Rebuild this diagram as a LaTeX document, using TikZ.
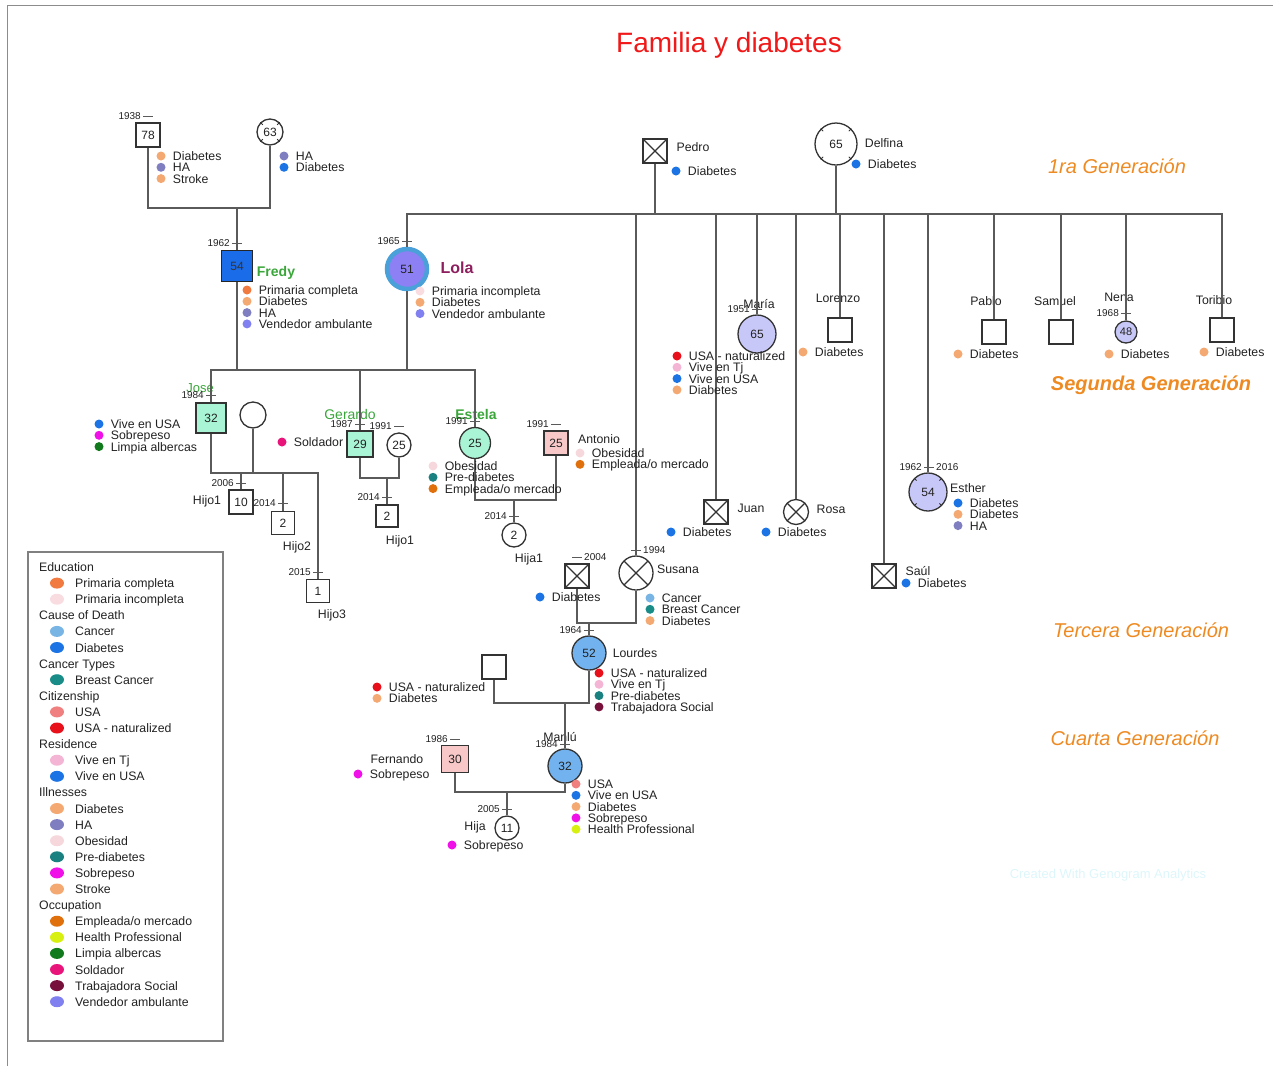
\documentclass[tikz,border=0pt]{standalone}
\usepackage{fontspec}
\setmainfont{Liberation Sans}
\usetikzlibrary{positioning,calc,shapes.geometric}

% colours
\definecolor{lineg}{HTML}{5A5A5A}
\definecolor{shapeg}{HTML}{333333}
\definecolor{txtc}{HTML}{222222}
\definecolor{titred}{HTML}{F01818}
\definecolor{genor}{HTML}{EE8A22}
\definecolor{greenname}{HTML}{3AA63A}
\definecolor{lolaname}{HTML}{8E1F5E}
\definecolor{wmark}{HTML}{DDF6FA}
\definecolor{cFredy}{HTML}{1A6CE8}
\definecolor{cLola}{HTML}{8C80F4}
\definecolor{cRing}{HTML}{4AA0D8}
\definecolor{cMint}{HTML}{A8F4D4}
\definecolor{cPink}{HTML}{F8C8C8}
\definecolor{cLav}{HTML}{C8C8F8}
\definecolor{cBlue}{HTML}{72B2EE}
\definecolor{cDiab}{HTML}{F4A872}
\definecolor{cHA}{HTML}{7E7EC0}
\definecolor{cStroke}{HTML}{F4A872}
\definecolor{cDeath}{HTML}{1C74E4}
\definecolor{cCancer}{HTML}{78B4E4}
\definecolor{cBreast}{HTML}{1A8C88}
\definecolor{cUSA}{HTML}{F08080}
\definecolor{cNat}{HTML}{E8101A}
\definecolor{cTj}{HTML}{F4B4D4}
\definecolor{cVUSA}{HTML}{1C74E4}
\definecolor{cObes}{HTML}{F6D8DC}
\definecolor{cPre}{HTML}{1A8080}
\definecolor{cSobre}{HTML}{F010E8}
\definecolor{cPC}{HTML}{F07A40}
\definecolor{cPI}{HTML}{F8DCE0}
\definecolor{cEmp}{HTML}{E0700C}
\definecolor{cHealth}{HTML}{D8F010}
\definecolor{cLimpia}{HTML}{107A1C}
\definecolor{cSold}{HTML}{E8147A}
\definecolor{cTrab}{HTML}{78103C}
\definecolor{cVend}{HTML}{8080F0}

\newcommand{\fattr}{\fontsize{12.3}{13}\selectfont}
\newcommand{\fnum}{\fontsize{12}{13}\selectfont}
\newcommand{\fyr}{\fontsize{10}{11}\selectfont}
\newcommand{\fgen}{\fontsize{20}{22}\selectfont}

\tikzset{
  lnk/.style={draw=lineg, line width=1.6pt},
  tk/.style={draw=lineg, line width=1pt},
  male/.style={rectangle, draw=shapeg, line width=1.3pt, fill=white, inner sep=0pt, font=\fnum, text=txtc},
  female/.style={circle, draw=shapeg, line width=1.3pt, fill=white, inner sep=0pt, font=\fnum, text=txtc},
  dead/.style={path picture={\draw[shapeg, line width=1.1pt]
      (path picture bounding box.north west) -- (path picture bounding box.south east)
      (path picture bounding box.north east) -- (path picture bounding box.south west);}},
  dot/.style={circle, inner sep=0pt, minimum size=9pt},
  attr/.style={inner sep=0pt, font=\fattr, text height=9pt, text depth=0pt, text=txtc},
  nm/.style={inner sep=0pt, font=\fattr, text height=9pt, text depth=0pt, text=txtc},
  yr/.style={inner sep=0pt, font=\fyr, text height=7pt, text depth=0pt, text=txtc},
  gen/.style={font=\fgen\itshape, text=genor},
  legbox/.style={draw=black!50, line width=1.2pt},
  leghead/.style={anchor=west, inner sep=0pt, font=\fattr, text height=9pt, text depth=0pt, text=txtc},
  legdot/.style={ellipse, inner sep=0pt, minimum width=14pt, minimum height=11pt},
  legtext/.style={anchor=west, inner sep=0pt, font=\fattr, text height=9pt, text depth=0pt, text=txtc}
}

% dots with their texts below one another
\newcommand{\attrs}[4]{%
  \foreach \col/\tx [count=\i from 0] in {#4}{%
    \node[dot, fill=\col] (#1d\i) at (#2,{#3+11.3*\i}) {};
    \node[attr, right=7pt of #1d\i] (#1t\i) {\tx};
  }%
}

\begin{document}
\begin{tikzpicture}[x=1pt, y=-1pt]
\useasboundingbox (0,0) rectangle (1273,1066);
\draw[black!45, line width=0.8pt] (7,1066) -- (7,5) -- (1273,5);

\node[font=\fontsize{28}{30}\selectfont, text=titred] (title) at (729,45) {Familia y diabetes};
\node[gen] (gen1) at (1117,166) {1ra Generación};
\node[gen, font=\fgen\bfseries\itshape] (gen2) at (1151,385) {Segunda Generación};
\node[gen] (gen3) at (1141,630) {Tercera Generación};
\node[gen] (gen4) at (1135,738) {Cuarta Generación};
\node[font=\fontsize{13}{14}\selectfont, text=wmark] (wm) at (1108,875) {Created With Genogram Analytics};

% first generation
\node[male, minimum size=24pt] (gpa) at (148,135) {78};
\node[female, minimum size=26pt] (gma) at (270,132) {63};
\node[male, dead, minimum size=24pt] (pedro) at (655,151) {};
\node[female, minimum size=42pt] (delfina) at (836,144) {65};

% second generation
\node[male, minimum size=31pt, fill=cFredy, draw=black!85, text=black!80] (fredy) at (237,266) {54};
\node[female, minimum size=40pt, fill=cLola, draw=cRing, line width=4.5pt] (lola) at (407,269) {51};
\node[female, minimum size=38pt, fill=cLav] (maria) at (757,334) {65};
\node[male, minimum size=24pt] (lorenzo) at (840,330) {};
\node[male, minimum size=24pt] (pablo) at (994,332) {};
\node[male, minimum size=24pt] (samuel) at (1061,332) {};
\node[female, minimum size=22pt, fill=cLav, font=\fontsize{11}{12}\selectfont] (nena) at (1126,332) {48};
\node[male, minimum size=24pt] (toribio) at (1222,330) {};
\node[male, dead, minimum size=24pt] (juan) at (716,512) {};
\node[female, dead, minimum size=25pt] (rosa) at (796,512) {};
\node[female, minimum size=38pt, fill=cLav] (esther) at (928,492) {54};
\node[male, dead, minimum size=24pt] (saul) at (884,576) {};
\node[female, dead, minimum size=34pt] (susana) at (636,573) {};
\node[male, dead, minimum size=24pt] (sp) at (577,576) {};

% third generation
\node[male, minimum size=30pt, fill=cMint] (jose) at (211,418) {32};
\node[female, minimum size=26pt] (jw) at (253,415) {};
\node[male, minimum size=24pt] (hijoA) at (241,502) {10};
\node[male, minimum size=23pt] (hijoB) at (283,523) {2};
\node[male, minimum size=23pt] (hijoC) at (318,591) {1};
\node[male, minimum size=26pt, fill=cMint] (gerardo) at (360,444) {29};
\node[female, minimum size=24pt] (gw) at (399,445) {25};
\node[male, minimum size=22pt] (hijoD) at (387,516) {2};
\node[female, minimum size=31pt, fill=cMint] (estela) at (475,443) {25};
\node[male, minimum size=24pt, fill=cPink] (antonio) at (556,443) {25};
\node[female, minimum size=24pt] (hija1) at (514,535) {2};
\node[female, minimum size=34pt, fill=cBlue] (lourdes) at (589,653) {52};
\node[male, minimum size=24pt] (lp) at (494,667) {};

% fourth generation
\node[female, minimum size=34pt, fill=cBlue] (manlu) at (565,766) {32};
\node[male, minimum size=27pt, fill=cPink] (fernando) at (455,759) {30};
\node[female, minimum size=24pt] (hija) at (507,828) {11};

% small marks on some circles
\foreach \n in {gma,delfina,esther}
  \foreach \a in {45,135,225,315}
    \draw[shapeg, line width=0.8pt] (\n.\a) -- ($(\n.\a)!3.5pt!(\n.center)$);

% names
\node[nm, font=\fontsize{14}{15}\selectfont\bfseries, text=greenname, text height=10pt] (nFredy) at (276,271) {Fredy};
\node[nm, font=\fontsize{16}{17}\selectfont\bfseries, text=lolaname, text height=11pt] (nLola) at (457,268) {Lola};
\node[nm, font=\fontsize{13}{14}\selectfont, text=greenname, text height=9pt] (nJose) at (200,388) {José};
\node[nm, font=\fontsize{14}{15}\selectfont, text=greenname, text height=10pt] (nGerardo) at (350,414) {Gerardo};
\node[nm, font=\fontsize{14}{15}\selectfont\bfseries, text=greenname, text height=10pt] (nEstela) at (476,414) {Estela};
\foreach \x/\y/\tx [count=\i] in {693/147/Pedro, 884/143/Delfina, 759/304/María, 838/298/Lorenzo,
    986/301/Pablo, 1055/301/Samuel, 1119/297/Nena, 1214/300/Toribio, 599/439/Antonio,
    751/508/Juan, 831/509/Rosa, 968/488/Esther, 918/571/Saúl, 678/569/Susana,
    635/653/Lourdes, 397/759/Fernando, 560/737/Manlú, 475/826/Hija, 529/558/Hija1,
    207/500/Hijo1, 297/546/Hijo2, 332/614/Hijo3, 400/540/Hijo1}
  \node[nm] (nm\i) at (\x,\y) {\tx};

% years
\foreach \x/\y/\tx [count=\i] in {148/116/1938, 237/243/1962, 407/241/1965, 211/395/1984,
    360/424/1987, 399/426/1991, 475/421/1991, 556/424/1991, 241/483/2006, 283/503/2014,
    318/572/2015, 387/497/2014, 514/516/2014, 757/309/1951, 1126/313/1968, 589/630/1964,
    565/744/1984, 455/739/1986, 507/809/2005, 929/467/1962}{
  \node[yr, anchor=east] (yl\i) at (\x-7,\y) {\tx};
  \draw[tk] (\x-5,\y) -- (\x+5,\y);
}
\foreach \x/\y/\tx [count=\i] in {929/467/2016, 636/550/1994, 577/557/2004}{
  \node[yr, anchor=west] (yr\i) at (\x+7,\y) {\tx};
  \draw[tk] (\x-5,\y) -- (\x+5,\y);
}

% connectors
\coordinate (g1) at (237,208);
\draw[lnk] (gpa.south) |- (g1) -| (gma.south);
\draw[lnk] (g1) -- (fredy.north);

\coordinate (s1) at (800,214);
\draw[lnk] (lola.north) |- (s1) -| (toribio.north);
\foreach \n in {pedro,delfina} \draw[lnk] (\n.south) -- (\n.south |- s1);
\foreach \n in {susana,juan,maria,rosa,lorenzo,saul,esther,pablo,samuel,nena}
  \draw[lnk] (\n.north) -- (\n.north |- s1);

\coordinate (s2) at (340,370);
\draw[lnk] (jose.north) |- (s2) -| (estela.north);
\foreach \n in {fredy,lola} \draw[lnk] (\n.south) -- (\n.south |- s2);
\draw[lnk] (gerardo.north) -- (gerardo.north |- s2);

\coordinate (s3) at (260,473);
\draw[lnk] (jose.south) |- (s3) -| (hijoC.north);
\draw[lnk] (jw.south) -- (jw.south |- s3);
\foreach \n in {hijoA,hijoB} \draw[lnk] (\n.north) -- (\n.north |- s3);

\coordinate (s4) at (380,478);
\draw[lnk] (gerardo.south) |- (s4) -| (gw.south);
\draw[lnk] (hijoD.north) -- (hijoD.north |- s4);

\coordinate (s5) at (514,500);
\draw[lnk] (estela.south) |- (s5) -| (antonio.south);
\draw[lnk] (hija1.north) -- (hija1.north |- s5);

\coordinate (s6) at (600,623);
\draw[lnk] (sp.south) |- (s6) -| (susana.south);
\draw[lnk] (lourdes.north) -- (lourdes.north |- s6);

\coordinate (s7) at (540,703);
\draw[lnk] (lp.south) |- (s7) -| (lourdes.south);
\draw[lnk] (manlu.north) -- (manlu.north |- s7);

\coordinate (s8) at (510,792);
\draw[lnk] (fernando.south) |- (s8) -| (manlu.south);
\draw[lnk] (hija.north) -- (hija.north |- s8);

% attributes
\attrs{gpa}{161}{156}{cDiab/Diabetes, cHA/HA, cStroke/Stroke}
\attrs{gma}{284}{156}{cHA/HA, cDeath/Diabetes}
\attrs{fre}{247}{290}{cPC/Primaria completa, cDiab/Diabetes, cHA/HA, cVend/Vendedor ambulante}
\attrs{lol}{420}{291}{cPI/Primaria incompleta, cDiab/Diabetes, cVend/Vendedor ambulante}
\attrs{ped}{676}{171}{cDeath/Diabetes}
\attrs{del}{856}{164}{cDeath/Diabetes}
\attrs{mar}{677}{356}{cNat/USA - naturalized, cTj/Vive en Tj, cVUSA/Vive en USA, cDiab/Diabetes}
\attrs{lor}{803}{352}{cDiab/Diabetes}
\attrs{pab}{958}{354}{cDiab/Diabetes}
\attrs{nen}{1109}{354}{cDiab/Diabetes}
\attrs{tor}{1204}{352}{cDiab/Diabetes}
\attrs{jos}{99}{424}{cVUSA/Vive en USA, cSobre/Sobrepeso, cLimpia/Limpia albercas}
\attrs{ger}{282}{442}{cSold/Soldador}
\attrs{est}{433}{466}{cObes/Obesidad, cPre/Pre-diabetes, cEmp/Empleada\slash o mercado}
\attrs{ant}{580}{453}{cObes/Obesidad, cEmp/Empleada\slash o mercado}
\attrs{jua}{671}{532}{cDeath/Diabetes}
\attrs{ros}{766}{532}{cDeath/Diabetes}
\attrs{esh}{958}{503}{cDeath/Diabetes, cDiab/Diabetes, cHA/HA}
\attrs{sau}{906}{583}{cDeath/Diabetes}
\attrs{spa}{540}{597}{cDeath/Diabetes}
\attrs{sus}{650}{598}{cCancer/Cancer, cBreast/Breast Cancer, cDiab/Diabetes}
\attrs{lou}{599}{673}{cNat/USA - naturalized, cTj/Vive en Tj, cPre/Pre-diabetes, cTrab/Trabajadora Social}
\attrs{lpa}{377}{687}{cNat/USA - naturalized, cDiab/Diabetes}
\attrs{man}{576}{784}{cUSA/USA, cVUSA/Vive en USA, cDiab/Diabetes, cSobre/Sobrepeso, cHealth/Health Professional}
\attrs{fer}{358}{774}{cSobre/Sobrepeso}
\attrs{hij}{452}{845}{cSobre/Sobrepeso}

% legend
\draw[legbox] (28,552) rectangle (223,1041);
\foreach \k/\tx in {0/Education, 3/Cause of Death, 6/Cancer Types, 8/Citizenship,
    11/Residence, 14/Illnesses, 21/Occupation}
  \node[leghead] (lh\k) at (39,{567+16.1*\k}) {\tx};
\foreach \k/\col/\tx in {1/cPC/Primaria completa, 2/cPI/Primaria incompleta, 4/cCancer/Cancer,
    5/cDeath/Diabetes, 7/cBreast/Breast Cancer, 9/cUSA/USA, 10/cNat/USA - naturalized,
    12/cTj/Vive en Tj, 13/cVUSA/Vive en USA, 15/cDiab/Diabetes, 16/cHA/HA, 17/cObes/Obesidad,
    18/cPre/Pre-diabetes, 19/cSobre/Sobrepeso, 20/cStroke/Stroke,
    22/cEmp/Empleada\slash o mercado, 23/cHealth/Health Professional,
    24/cLimpia/Limpia albercas, 25/cSold/Soldador, 26/cTrab/Trabajadora Social,
    27/cVend/Vendedor ambulante}{
  \node[legdot, fill=\col] (ld\k) at (57,{567+16.1*\k}) {};
  \node[legtext] (lt\k) at (75,{567+16.1*\k}) {\tx};
}
\end{tikzpicture}
\end{document}
